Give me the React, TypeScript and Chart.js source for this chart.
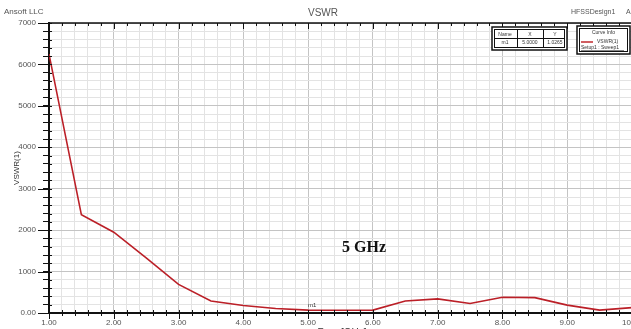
import React, { useEffect, useRef } from "react";
import { Chart, registerables } from "chart.js";

Chart.register(...registerables);

const freqGHz = [1.0, 1.5, 2.0, 2.5, 3.0, 3.5, 4.0, 4.5, 5.0, 5.5, 6.0, 6.5, 7.0, 7.5, 8.0, 8.5, 9.0, 9.5, 10.0];
const vswr = [6250, 2370, 1950, 1330, 690, 290, 180, 110, 70, 65, 70, 290, 340, 230, 380, 370, 190, 70, 130];

const chartTitle = "VSWR";
const companyLabel = "Ansoft LLC";
const designLabel = "HFSSDesign1";
const xAxisTitle = "Freq [GHz]";
const yAxisTitle = "VSWR(1)";
const annotation = "5 GHz";
const markerName = "m1";
const markerX = 5.0;
const markerXText = "5.0000";
const markerYText = "1.0265";
const curveName = "VSWR(1)";
const setupName = "Setup1 : Sweep1";

const W = 660;
const H = 340;

const isMajor = (v: number, step: number) => Math.abs(v / step - Math.round(v / step)) < 1e-6;

export default function App() {
  const ref = useRef<HTMLCanvasElement | null>(null);

  useEffect(() => {
    document.body.style.margin = "0";
    const canvas = ref.current;
    if (!canvas) return;

    const overlay = {
      id: "overlay",
      beforeDraw(chart: any) {
        const ctx = chart.ctx;
        ctx.save();
        ctx.fillStyle = "#ffffff";
        ctx.fillRect(0, 0, chart.width, chart.height);
        ctx.restore();
      },
      afterDraw(chart: any) {
        const ctx = chart.ctx;
        const a = chart.chartArea;
        const xs = chart.scales.x;
        const ys = chart.scales.y;
        ctx.save();
        ctx.strokeStyle = "#111";
        ctx.lineWidth = 1.5;
        ctx.beginPath();
        ctx.moveTo(a.left, a.top);
        ctx.lineTo(W, a.top);
        ctx.stroke();
        ctx.lineWidth = 1;
        xs.ticks.forEach((t: any) => {
          const px = xs.getPixelForValue(t.value);
          const len = isMajor(t.value, 1) ? 6 : 3;
          ctx.beginPath();
          ctx.moveTo(Math.round(px) + 0.5, a.top);
          ctx.lineTo(Math.round(px) + 0.5, a.top + len);
          ctx.stroke();
        });
        ys.ticks.forEach((t: any) => {
          const py = ys.getPixelForValue(t.value);
          if (isMajor(t.value, 1000)) {
            ctx.beginPath();
            ctx.moveTo(a.left - 11, Math.round(py) + 0.5);
            ctx.lineTo(a.left, Math.round(py) + 0.5);
            ctx.stroke();
          }
          ctx.beginPath();
          ctx.moveTo(a.left, Math.round(py) + 0.5);
          ctx.lineTo(a.left + 3, Math.round(py) + 0.5);
          ctx.stroke();
        });
        xs.ticks.forEach((t: any) => {
          const px = Math.round(xs.getPixelForValue(t.value)) + 0.5;
          ctx.beginPath();
          ctx.moveTo(px, a.bottom - 3);
          ctx.lineTo(px, a.bottom + (isMajor(t.value, 1) ? 6 : 3));
          ctx.stroke();
        });

        ctx.fillStyle = "#555";
        ctx.textBaseline = "middle";
        ctx.font = "8px Arial, 'Liberation Sans', sans-serif";
        ctx.textAlign = "left";
        ctx.fillText(companyLabel, 4, 12);
        ctx.font = "10px Arial, 'Liberation Sans', sans-serif";
        ctx.textAlign = "center";
        ctx.fillText(chartTitle, 323, 13);
        ctx.font = "7px Arial, 'Liberation Sans', sans-serif";
        ctx.textAlign = "left";
        ctx.fillText(designLabel, 571, 12);
        ctx.fillText("A", 626, 12);

        ctx.save();
        ctx.translate(17, (a.top + a.bottom) / 2);
        ctx.rotate(-Math.PI / 2);
        ctx.font = "8px Arial, 'Liberation Sans', sans-serif";
        ctx.fillStyle = "#333";
        ctx.textAlign = "center";
        ctx.fillText(yAxisTitle, 0, 0);
        ctx.restore();

        ctx.font = "10px Arial, 'Liberation Sans', sans-serif";
        ctx.fillStyle = "#333";
        ctx.textAlign = "center";
        ctx.fillText(xAxisTitle, 342, 333);

        ctx.font = "bold 16px 'Liberation Serif', 'Times New Roman', serif";
        ctx.fillStyle = "#111";
        ctx.textAlign = "left";
        ctx.fillText(annotation, 342, 248);

        const mIdx = freqGHz.indexOf(markerX);
        const mx = xs.getPixelForValue(markerX);
        const my = ys.getPixelForValue(vswr[mIdx]);
        ctx.font = "6px Arial, 'Liberation Sans', sans-serif";
        ctx.fillStyle = "#333";
        ctx.textAlign = "center";
        ctx.fillText(markerName, mx + 4, my - 5);

        const tx = 492, ty = 27, tw = 75, th = 23;
        ctx.fillStyle = "#fff";
        ctx.fillRect(tx, ty, tw, th);
        ctx.strokeStyle = "#111";
        ctx.lineWidth = 1.5;
        ctx.strokeRect(tx, ty, tw, th);
        ctx.lineWidth = 1;
        ctx.strokeRect(tx + 2.5, ty + 2.5, tw - 5, th - 5);
        ctx.beginPath();
        ctx.moveTo(tx + 2.5, ty + 11.5);
        ctx.lineTo(tx + tw - 2.5, ty + 11.5);
        ctx.moveTo(517.5, ty + 2.5);
        ctx.lineTo(517.5, ty + th - 2.5);
        ctx.moveTo(543.5, ty + 2.5);
        ctx.lineTo(543.5, ty + th - 2.5);
        ctx.stroke();
        ctx.font = "5px Arial, 'Liberation Sans', sans-serif";
        ctx.fillStyle = "#333";
        ctx.textAlign = "center";
        ctx.fillText("Name", 505, ty + 7.5);
        ctx.fillText("X", 530, ty + 7.5);
        ctx.fillText("Y", 555, ty + 7.5);
        ctx.fillText(markerName, 505, ty + 16);
        ctx.fillText(markerXText, 530, ty + 16);
        ctx.fillText(markerYText, 555, ty + 16);

        const cx = 577, cy = 26, cw = 53, ch = 28;
        ctx.fillStyle = "#fff";
        ctx.fillRect(cx, cy, cw, ch);
        ctx.lineWidth = 1.5;
        ctx.strokeRect(cx, cy, cw, ch);
        ctx.lineWidth = 1;
        ctx.strokeRect(cx + 2.5, cy + 2.5, cw - 5, ch - 5);
        ctx.fillStyle = "#333";
        ctx.font = "5px Arial, 'Liberation Sans', sans-serif";
        ctx.fillText("Curve Info", cx + cw / 2, cy + 7);
        ctx.strokeStyle = "#c0282d";
        ctx.lineWidth = 1.5;
        ctx.beginPath();
        ctx.moveTo(581, 42);
        ctx.lineTo(593, 42);
        ctx.stroke();
        ctx.textAlign = "left";
        ctx.fillText(curveName, 597, 42);
        ctx.fillText(setupName, 581, 48);
        ctx.strokeStyle = "#333";
        ctx.lineWidth = 0.6;
        ctx.beginPath();
        ctx.moveTo(581, 50.5);
        ctx.lineTo(624, 50.5);
        ctx.stroke();
        ctx.restore();
      },
    };

    const chart = new Chart(canvas, {
      type: "line",
      data: {
        datasets: [
          {
            data: freqGHz.map((f, i) => ({ x: f, y: vswr[i] })),
            borderColor: "#bb1f27",
            borderWidth: 1.6,
            pointRadius: 0,
            tension: 0,
            fill: false,
          },
        ],
      },
      options: {
        animation: false,
        responsive: false,
        devicePixelRatio: 1,
        layout: { padding: { top: 23, right: 28, bottom: 0, left: 0 } },
        plugins: { legend: { display: false }, tooltip: { enabled: false }, title: { display: false } },
        scales: {
          x: {
            type: "linear",
            min: 1,
            max: 10,
            afterFit: (s: any) => {
              s.height = H - 313;
            },
            border: { display: true, color: "#111", width: 2 },
            grid: {
              color: (c: any) => (isMajor(c.tick.value, 1) ? "#c4c4c4" : "#e3e3e3"),
              lineWidth: 1,
              drawTicks: false,
            },
            ticks: {
              stepSize: 0.2,
              autoSkip: false,
              maxRotation: 0,
              padding: 5,
              color: "#555",
              font: { size: 8, family: "Arial, 'Liberation Sans', sans-serif" },
              callback: (v: any) => (isMajor(Number(v), 1) ? Number(v).toFixed(2) : ""),
            },
          },
          y: {
            type: "linear",
            min: 0,
            max: 7000,
            afterFit: (s: any) => {
              s.width = 49;
            },
            border: { display: true, color: "#111", width: 2 },
            grid: {
              color: (c: any) => (isMajor(c.tick.value, 1000) ? "#c4c4c4" : "#e3e3e3"),
              lineWidth: 1,
              drawTicks: true,
              tickLength: 6,
              tickColor: "#111",
            },
            ticks: {
              stepSize: 200,
              autoSkip: false,
              padding: 7,
              color: "#555",
              font: { size: 8, family: "Arial, 'Liberation Sans', sans-serif" },
              callback: (v: any) => {
                const n = Number(v);
                if (!isMajor(n, 1000)) return "";
                return n === 0 ? "0.00" : String(n);
              },
            },
          },
        },
      },
      plugins: [overlay],
    } as any);

    return () => chart.destroy();
  }, []);

  return (
    <div style={{ position: "fixed", left: 0, top: 0, width: 631, height: 329, overflow: "hidden", background: "#fff" }}>
      <canvas ref={ref} width={W} height={H} style={{ width: W, height: H, display: "block" }} />
    </div>
  );
}
